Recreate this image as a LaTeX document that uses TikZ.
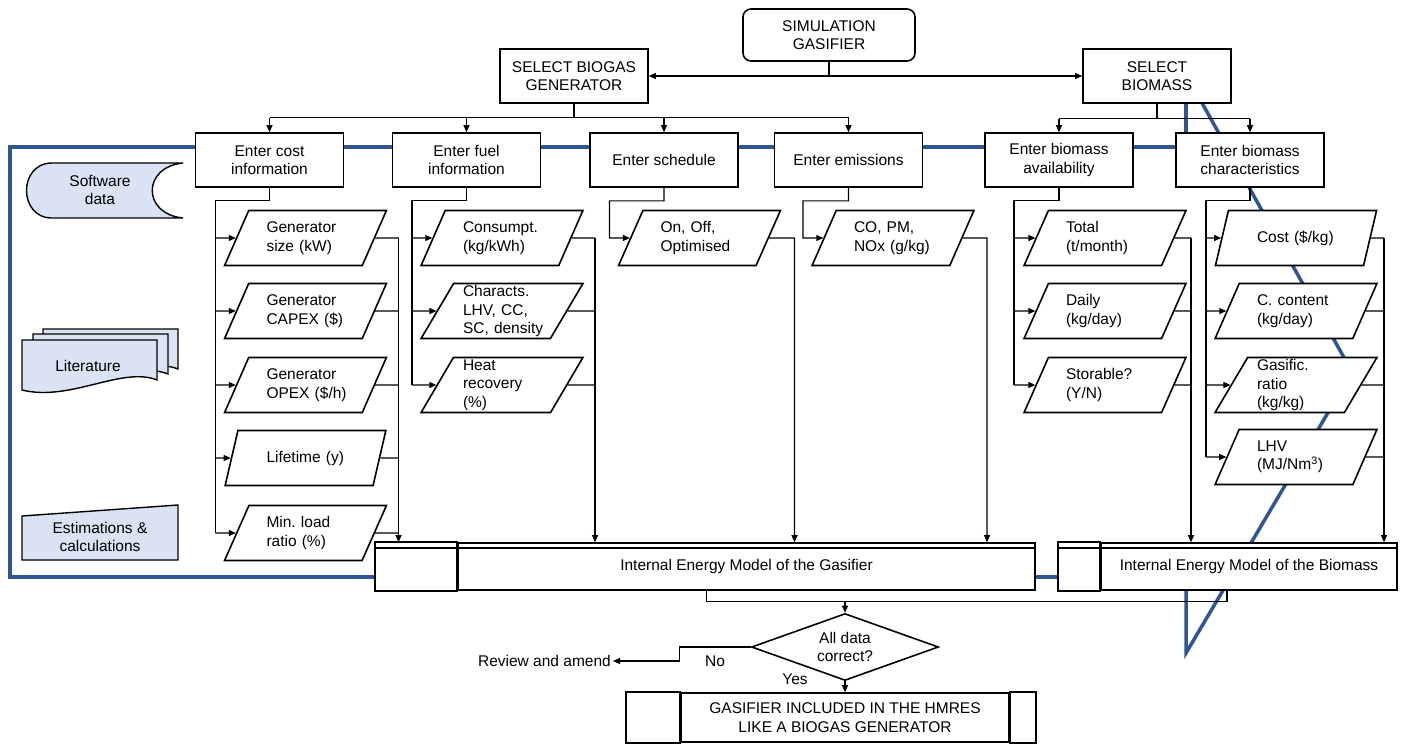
\documentclass[tikz,border=0pt]{standalone}
\usepackage{fontspec}
\setmainfont{Liberation Sans}
\usetikzlibrary{shapes.geometric,arrows.meta,calc}
\definecolor{frameblue}{RGB}{47,85,151}
\definecolor{legendfill}{RGB}{218,227,243}

\tikzset{
  txt/.style={font=\fontsize{15.5}{18.5}\selectfont},
  box/.style={txt, draw, line width=1.6pt, fill=white, align=center,
    minimum width=148pt, minimum height=54pt, inner sep=2pt},
  datain/.style={txt, trapezium, trapezium left angle=63, trapezium right angle=117,
    trapezium stretches=true, draw, line width=1.6pt, fill=white,
    minimum width=162pt, minimum height=55pt, text width=78pt, align=left, inner sep=0pt},
  modelbox/.style={txt, draw, line width=1.6pt, fill=white, minimum height=47pt, inner sep=0pt},
  legend/.style={line width=1.4pt, fill=legendfill},
  conn/.style={line width=1.1pt},
  arr/.style={conn, -{Triangle[length=7pt,width=6pt]}},
  blueline/.style={frameblue, line width=3.5pt},
}

\begin{document}
\begin{tikzpicture}[x=1pt, y=-1pt]
\useasboundingbox (0,0) rectangle (1405,744);

% --- blue frame, behind the boxes ---
\draw[blueline] (376,577) -- (10,577) -- (10,147) -- (1186,147) -- (1186,103);
\draw[blueline] (1035,577) -- (1059,577);
\draw[blueline] (1202,103) -- (1352,372) -- (1186,653) -- (1186,590);

% --- legend ---
\draw[legend] (183,163) -- (52,163) .. controls (18,163) and (18,218) .. (52,218)
  -- (183,218) .. controls (142,214) and (142,167) .. (183,163);
\node[txt, align=center] (softdata) at (100,190) {Software\\data};

\begin{scope}[shift={(21,-11)}]
  \draw[legend] (22,340) -- (157,340) -- (157,380) .. controls (122,366) and (70,402) .. (22,390) -- cycle;
\end{scope}
\begin{scope}[shift={(11,-6)}]
  \draw[legend] (22,340) -- (157,340) -- (157,380) .. controls (122,366) and (70,402) .. (22,390) -- cycle;
\end{scope}
\draw[legend] (22,340) -- (157,340) -- (157,380) .. controls (122,366) and (70,402) .. (22,390) -- cycle;
\node[txt] (litt) at (88,366) {Literature};

\draw[legend] (22,516) -- (178,505) -- (178,560) -- (22,560) -- cycle;
\node[txt, align=center] (estim) at (100,537) {Estimations \&\\calculations};

% --- top of the tree ---
\node[txt, draw, line width=1.6pt, rounded corners=8pt, fill=white, align=center,
  minimum width=172pt, minimum height=52pt] (sim) at (829,35) {SIMULATION\\GASIFIER};
\node[box] (selgen) at (574,76) {SELECT BIOGAS\\GENERATOR};
\node[box] (selbio) at (1157,76) {SELECT\\BIOMASS};

\draw[conn] (sim.south) -- (sim.south |- selgen.east);
\draw[conn, {Triangle[length=7pt,width=6pt]}-{Triangle[length=7pt,width=6pt]}] (selgen.east) -- (selbio.west);

\node[box] (cost) at (269.5,160) {Enter cost\\information};
\node[box] (fuel) at (466.5,160) {Enter fuel\\information};
\node[box] (sched) at (664,160) {Enter schedule};
\node[box] (emis) at (848.5,160) {Enter emissions};
\node[box] (avail) at (1059,160) {Enter biomass\\availability};
\node[box] (charac) at (1250,160) {Enter biomass\\characteristics};

\draw[conn] (selgen.south) -- ++(0,14) coordinate (genj);
\draw[conn] (cost.north |- genj) -- (emis.north |- genj);
\draw[arr] (cost.north |- genj) -- (cost.north);
\draw[arr] (fuel.north |- genj) -- (fuel.north);
\draw[arr] (sched.north |- genj) -- (sched.north);
\draw[arr] (emis.north |- genj) -- (emis.north);

\draw[conn] (selbio.south) -- ++(0,15) coordinate (bioj);
\draw[conn] (avail.north |- bioj) -- (charac.north |- bioj);
\draw[arr] (avail.north |- bioj) -- (avail.north);
\draw[arr] (charac.north |- bioj) -- (charac.north);

% --- internal models ---
\node[modelbox, minimum width=577pt] (gasmodel) at (746.5,566.5) {Internal Energy Model of the Gasifier};
\draw[line width=1.6pt, fill=white] ([xshift=-82pt]gasmodel.north west) rectangle (gasmodel.south west);
\draw[line width=1.6pt] ([xshift=-82pt,yshift=-6pt]gasmodel.north west) -- ([yshift=-6pt]gasmodel.north east);

\node[modelbox, minimum width=296pt] (biomodel) at (1249,566.5) {Internal Energy Model of the Biomass};
\draw[line width=1.6pt, fill=white] ([xshift=-42pt]biomodel.north west) rectangle (biomodel.south west);
\draw[line width=1.6pt] ([xshift=-42pt,yshift=-6pt]biomodel.north west) -- ([yshift=-6pt]biomodel.north east);

% --- Column 1: cost ---
\node[datain] (gsize) at (305.5,238) {Generator\\size~(kW)};
\node[datain] (capex) at (305.5,311) {Generator\\CAPEX~(\$)};
\node[datain] (opex) at (305.5,385) {Generator\\OPEX~(\$/h)};
\node[datain] (life) at (305.5,458) {Lifetime~(y)};
\node[datain] (minload) at (305.5,533) {Min.~load\\ratio~(\%)};
\draw[conn] (cost.south) -- ++(0,13) -| ([xshift=-90pt]minload.center);
\draw[arr] ([xshift=-90pt]gsize.center) -- (gsize.west);
\draw[arr] ([xshift=-90pt]capex.center) -- (capex.west);
\draw[arr] ([xshift=-90pt]opex.center) -- (opex.west);
\draw[arr] ([xshift=-90pt]life.center) -- (life.west);
\draw[arr] ([xshift=-90pt]minload.center) -- (minload.west);
\draw[conn] (gsize.east) -- ([xshift=93pt]gsize.center);
\draw[conn] (capex.east) -- ([xshift=93pt]capex.center);
\draw[conn] (opex.east) -- ([xshift=93pt]opex.center);
\draw[conn] (life.east) -- ([xshift=93pt]life.center);
\draw[conn] (minload.east) -- ([xshift=93pt]minload.center);
\draw[arr] ([xshift=93pt]gsize.center) -- ([xshift=93pt]gsize.center |- gasmodel.north);

% --- Column 2: fuel ---
\node[datain] (consum) at (502,238) {Consumpt.\\(kg/kWh)};
\node[datain] (characts) at (502,311) {Characts.\\\mbox{LHV, CC,}\\\mbox{SC, density}};
\node[datain] (heat) at (502,385) {Heat\\recovery\\(\%)};
\draw[conn] (fuel.south) -- ++(0,13) -| ([xshift=-90pt]heat.center);
\draw[arr] ([xshift=-90pt]consum.center) -- (consum.west);
\draw[arr] ([xshift=-90pt]characts.center) -- (characts.west);
\draw[arr] ([xshift=-90pt]heat.center) -- (heat.west);
\draw[conn] (consum.east) -- ([xshift=93pt]consum.center);
\draw[conn] (characts.east) -- ([xshift=93pt]characts.center);
\draw[conn] (heat.east) -- ([xshift=93pt]heat.center);
\draw[arr] ([xshift=93pt]consum.center) -- ([xshift=93pt]consum.center |- gasmodel.north);

% --- Column 3: schedule ---
\node[datain] (onoff) at (699.5,238) {On,~Off,\\Optimised};
\draw[arr] (sched.south) -- ++(0,13) -| ([xshift=-90pt]onoff.center) -- (onoff.west);
\draw[arr] (onoff.east) -- ([xshift=95pt]onoff.center) -- ([xshift=95pt]onoff.center |- gasmodel.north);

% --- Column 4: emissions ---
\node[datain] (pollut) at (893,238) {CO,~PM,\\NOx~(g/kg)};
\draw[arr] (emis.south) -- ++(0,13) -| ([xshift=-90pt]pollut.center) -- (pollut.west);
\draw[arr] (pollut.east) -- ([xshift=94pt]pollut.center) -- ([xshift=94pt]pollut.center |- gasmodel.north);

% --- Column 5: availability ---
\node[datain] (total) at (1105,238) {Total\\(t/month)};
\node[datain] (daily) at (1105,311) {Daily\\(kg/day)};
\node[datain] (stor) at (1105,385) {Storable?\\(Y/N)};
\draw[conn] (avail.south) -- ++(0,13) -| ([xshift=-91pt]stor.center);
\draw[arr] ([xshift=-91pt]total.center) -- (total.west);
\draw[arr] ([xshift=-91pt]daily.center) -- (daily.west);
\draw[arr] ([xshift=-91pt]stor.center) -- (stor.west);
\draw[conn] (total.east) -- ([xshift=86pt]total.center);
\draw[conn] (daily.east) -- ([xshift=86pt]daily.center);
\draw[conn] (stor.east) -- ([xshift=86pt]stor.center);
\draw[arr] ([xshift=86pt]total.center) -- ([xshift=86pt]total.center |- biomodel.north);

% --- Column 6: characteristics ---
\node[datain] (bcost) at (1296,238) {Cost~(\$/kg)};
\node[datain] (ccont) at (1296,311) {C.~content\\(kg/day)};
\node[datain] (gratio) at (1296,385) {Gasific.\\ratio\\(kg/kg)};
\node[datain] (lhv) at (1296,457) {LHV\\(MJ/Nm\textsuperscript{3})};
\draw[conn] (charac.south) -- ++(0,13) -| ([xshift=-90pt]lhv.center);
\draw[arr] ([xshift=-90pt]bcost.center) -- (bcost.west);
\draw[arr] ([xshift=-90pt]ccont.center) -- (ccont.west);
\draw[arr] ([xshift=-90pt]gratio.center) -- (gratio.west);
\draw[arr] ([xshift=-90pt]lhv.center) -- (lhv.west);
\draw[conn] (bcost.east) -- ([xshift=88pt]bcost.center);
\draw[conn] (ccont.east) -- ([xshift=88pt]ccont.center);
\draw[conn] (gratio.east) -- ([xshift=88pt]gratio.center);
\draw[conn] (lhv.east) -- ([xshift=88pt]lhv.center);
\draw[arr] ([xshift=88pt]bcost.center) -- ([xshift=88pt]bcost.center |- biomodel.north);

% --- check and result ---
\node[txt, diamond, draw, line width=1.6pt, fill=white, aspect=2.8, align=center,
  minimum width=187pt, minimum height=67pt, inner sep=0pt] (check) at (845,647) {All data\\correct?};
\draw[conn] ([xshift=-40pt]gasmodel.south) -- ++(0,11) coordinate (collect) -| ([xshift=-22pt]biomodel.south);
\draw[arr] (check.north |- collect) -- (check.north);

\node[txt, anchor=east, inner sep=2pt] (review) at (613,661) {Review and amend};
\draw[arr] (check.west) -- ++(-71,0) |- (review.east);
\node[txt] (nolbl) at (715,661) {No};
\node[txt] (yeslbl) at (795,679) {Yes};

\node[txt, draw, line width=1.6pt, fill=white, align=center, minimum width=328pt,
  minimum height=49pt, inner sep=0pt] (final) at (845,717.5) {GASIFIER INCLUDED IN THE HMRES\\LIKE A BIOGAS GENERATOR};
\draw[line width=1.6pt] ([xshift=-54pt]final.north west) rectangle (final.south west);
\draw[line width=1.6pt] (final.north east) rectangle ([xshift=26pt]final.south east);
\draw[arr] (check.south) -- (final.north);
\end{tikzpicture}
\end{document}
